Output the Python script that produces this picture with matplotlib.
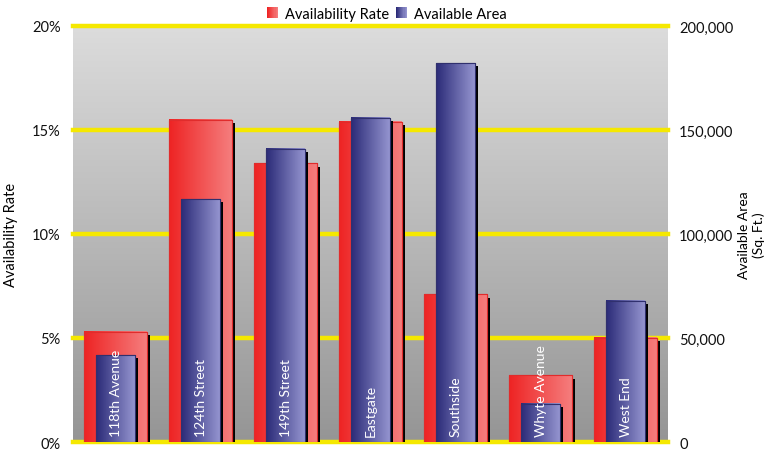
import numpy as np
import matplotlib
matplotlib.use("Agg")
import matplotlib.pyplot as plt
from matplotlib.colors import LinearSegmentedColormap
from matplotlib.patches import Rectangle
from matplotlib.legend_handler import HandlerBase
import matplotlib.patheffects as pe
from matplotlib.ticker import FuncFormatter

plt.rcParams["font.family"] = ["Lato", "DejaVu Sans"]

# data
areas = ["118th Avenue", "124th Street", "149th Street", "Eastgate",
         "Southside", "Whyte Avenue", "West End"]
rate = [5.3, 15.5, 13.4, 15.4, 7.1, 3.2, 5.0]                    # %
area = [41800, 116800, 140900, 155800, 182200, 18300, 67800]      # sq. ft.
rate_ticks = [0, 5, 10, 15, 20]
area_ticks = [0, 50000, 100000, 150000, 200000]

RED_CMAP = LinearSegmentedColormap.from_list("red", ["#ee2424", "#f57d7d"])
BLUE_CMAP = LinearSegmentedColormap.from_list("blue", ["#2b2b78", "#9494cf"])
BG_CMAP = LinearSegmentedColormap.from_list("bg", ["#959595", "#dcdcdc"])
YELLOW = "#f5e800"

HGRAD = np.linspace(0, 1, 64).reshape(1, -1)


def gradient_bars(ax, x, heights, width, cmap, edge, z):
    bars = ax.bar(x, heights, width=width, color=cmap(0.0), edgecolor=edge,
                  linewidth=0.8, zorder=z)
    for b in bars:
        b.set_path_effects([pe.SimplePatchShadow(offset=(2.4, -2.4),
                                                 shadow_rgbFace="black", alpha=1.0),
                            pe.Normal()])
        x0, w, h = b.get_x(), b.get_width(), b.get_height()
        ax.imshow(HGRAD, extent=[x0, x0 + w, 0, h], aspect="auto", cmap=cmap,
                  zorder=z + 0.1, interpolation="bilinear")
        # thin outline on top of the gradient
        ax.add_patch(Rectangle((x0, 0), w, h, fill=False, edgecolor=edge,
                               linewidth=0.8, zorder=z + 0.2))
    return bars


class GradientHandler(HandlerBase):
    def __init__(self, cmap):
        super().__init__()
        self.cmap = cmap

    def create_artists(self, legend, orig_handle, xdescent, ydescent,
                       width, height, fontsize, trans):
        n = 10
        side = height * 1.1
        x0 = xdescent + (width - side) / 2
        y0 = -ydescent - (side - height) / 2
        out = []
        for i in range(n):
            out.append(Rectangle((x0 + i * side / n, y0), side / n, side,
                                 facecolor=self.cmap(i / (n - 1)),
                                 edgecolor="none", transform=trans))
        return out


fig = plt.figure(figsize=(7.72, 4.52), dpi=100)
ax = fig.add_axes([0.0946, 0.0199, 0.7707, 0.9204])
ax2 = ax.twinx()

x = np.arange(len(areas))

# background gradient
vgrad = np.linspace(0, 1, 256).reshape(-1, 1)
ax.imshow(vgrad, extent=[-0.5, len(areas) - 0.5, 0, 20], origin="lower",
          aspect="auto", cmap=BG_CMAP, zorder=0)
for t in rate_ticks:
    ax.axhline(t, color=YELLOW, linewidth=3.2, zorder=0.5, clip_on=False)

gradient_bars(ax, x, rate, 0.74, RED_CMAP, "#e02c2c", 2)
gradient_bars(ax2, x, area, 0.45, BLUE_CMAP, "#30306e", 2)

for xi, name in zip(x, areas):
    ax2.text(xi, 3000, name, rotation=90, ha="center", va="bottom",
             color="white", fontsize=10, zorder=5)

ax.set_xlim(-0.5, len(areas) - 0.5)
ax.set_ylim(0, 20)
ax2.set_ylim(0, 200000)
ax.set_xticks([])
ax.set_yticks(rate_ticks)
ax.yaxis.set_major_formatter(FuncFormatter(lambda v, p: f"{v:.0f}%"))
ax2.set_yticks(area_ticks)
ax2.yaxis.set_major_formatter(FuncFormatter(lambda v, p: f"{v:,.0f}"))
ax.tick_params(axis="y", length=0, pad=9, labelsize=10.5, colors="#111111")
ax2.tick_params(axis="y", length=0, pad=8, labelsize=10.5, colors="#111111")
for a in (ax, ax2):
    for s in a.spines.values():
        s.set_visible(False)

ax.set_ylabel("Availability Rate", fontsize=10.5, labelpad=10)
ax2.set_ylabel("Available Area\n(Sq. Ft.)", fontsize=10, rotation=90,
               labelpad=3, linespacing=1.3)

h1 = Rectangle((0, 0), 1, 1)
h2 = Rectangle((0, 0), 1, 1)
fig.legend([h1, h2], ["Availability Rate", "Available Area"],
           handler_map={h1: GradientHandler(RED_CMAP), h2: GradientHandler(BLUE_CMAP)},
           loc="upper center", bbox_to_anchor=(0.5, 1.012), ncol=2, frameon=False,
           fontsize=10.5, handlelength=0.9, handletextpad=0.4, columnspacing=0.4)

fig.savefig("out.png", dpi=100)
